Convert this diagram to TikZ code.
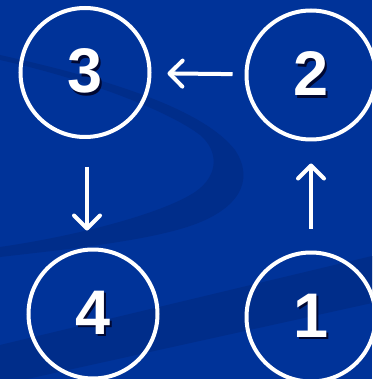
\documentclass[tikz,border=0pt]{standalone}
\usepackage{fontspec}
\setmainfont{Liberation Sans}
\usetikzlibrary{arrows.meta}
\definecolor{bgblue}{RGB}{0,51,153}
\definecolor{swoosh}{RGB}{0,45,138}
\definecolor{digitshadow}{RGB}{0,8,50}
% a digit with a dark drop shadow behind it
\newcommand\shadeddigit[1]{\makebox[0pt][l]{\hspace{2.5pt}\raisebox{-2.5pt}{\textcolor{digitshadow}{#1}}}#1}
\tikzset{
  digitfont/.style={font=\fontsize{63}{63}\selectfont\bfseries},
  stepcircle/.style={circle, draw=white, line width=4pt, minimum size=129pt,
    inner sep=0pt, text=white, digitfont},
  flow/.style={draw=white, line width=4pt,
    -{Straight Barb[length=13pt,width=26pt,line cap=round,round]}}
}
\begin{document}
\begin{tikzpicture}[x=1pt,y=-1pt]
  % background
  \fill[bgblue] (0,0) rectangle (372,379);
  \useasboundingbox (0,0) rectangle (372,379);
  % crescent swoosh
  \fill[swoosh] (0,55) .. controls (90,75) and (200,105) .. (235,150)
    .. controls (255,180) and (240,210) .. (187,227)
    .. controls (140,242) and (60,250) .. (0,257) -- (0,247)
    .. controls (70,237) and (160,215) .. (195,192)
    .. controls (220,175) and (218,150) .. (200,135)
    .. controls (170,112) and (90,80) .. (0,60) -- cycle;
  % lower band
  \fill[swoosh] (372,256) -- (372,303) -- (0,385) -- (0,345) -- cycle;
  % steps
  \node[stepcircle] (c3) at (85,72.5) {\shadeddigit{3}};
  \node[stepcircle] (c2) at (311,75) {\shadeddigit{2}};
  \node[stepcircle] (c4) at (93,314) {\shadeddigit{4}};
  \node[stepcircle] (c1) at (311,317) {\shadeddigit{1}};
  % connectors
  \draw[flow, shorten <=12pt, shorten >=16pt] (c2) -- (c3);
  \draw[flow, shorten <=28pt, shorten >=17pt] ([xshift=2pt]c3.south) -- ([xshift=2pt]c3.south |- c4.north);
  \draw[flow, shorten <=22pt, shorten >=22pt] (c1.north) -- (c1.north |- c2.south);
\end{tikzpicture}
\end{document}
